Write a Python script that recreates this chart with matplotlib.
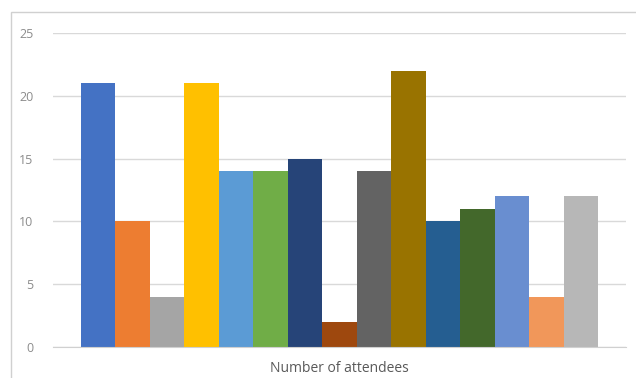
import matplotlib
matplotlib.use("Agg")
import matplotlib.pyplot as plt
from matplotlib.patches import Rectangle

series_names = [f"S{i+1}" for i in range(15)]
values = [21, 10, 4, 21, 14, 14, 15, 2, 14, 22, 10, 11, 12, 4, 12]
colors = ["#4472C4", "#ED7D31", "#A5A5A5", "#FFC000", "#5B9BD5", "#70AD47",
          "#264478", "#9E480E", "#636363", "#997300", "#255E91", "#43682B",
          "#698ED0", "#F1975A", "#B7B7B7"]
category = "Number of attendees"
yticks = [0, 5, 10, 15, 20, 25]

plt.rcParams['font.family'] = ['Open Sans', 'DejaVu Sans']

W, H = 636, 378
fig = plt.figure(figsize=(W / 100, H / 100), dpi=100)
fig.patch.set_facecolor("white")

# outer chart border
fig.add_artist(Rectangle((11 / W, -0.01), 1.02 - 11 / W, 1 - 12 / H + 0.01,
                         transform=fig.transFigure, fill=False,
                         edgecolor="#d0d0d0", linewidth=1.0))

ax = fig.add_axes([53 / W, 1 - 347 / H, (626 - 53) / W, (347 - 33) / H])

n = len(values)
group = 0.904
w = group / n
for i, (v, c) in enumerate(zip(values, colors)):
    x = -group / 2 + (i + 0.5) * w
    ax.bar(x, v, width=w, color=c, edgecolor="none", zorder=3, label=series_names[i])

ax.set_xlim(-0.5, 0.5)
ax.set_ylim(0, 25)
ax.set_yticks(yticks)
ax.set_yticklabels([str(t) for t in yticks])
ax.set_xticks([0])
ax.set_xticklabels([category])
ax.tick_params(axis='x', length=0, pad=10, labelsize=10, labelcolor="#595959")
ax.tick_params(axis='y', length=0, pad=14, labelsize=9, labelcolor="#8c8c8c")
ax.grid(axis='y', color="#d9d9d9", linewidth=1.0, zorder=0)
for s in ["top", "right", "left"]:
    ax.spines[s].set_visible(False)
ax.spines["bottom"].set_color("#d0d0d0")
ax.spines["bottom"].set_zorder(4)

fig.savefig("out.png", dpi=100)
